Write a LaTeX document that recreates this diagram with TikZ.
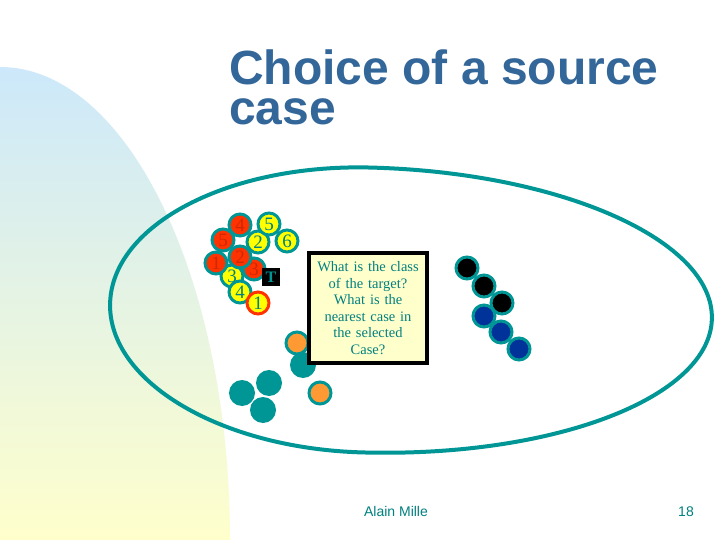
\documentclass[tikz,border=0pt]{standalone}
\usepackage{fontspec}
\setmainfont{Liberation Serif}
\setsansfont{Liberation Sans}
\usetikzlibrary{positioning}
\definecolor{CaseTeal}{RGB}{0,150,150}
\definecolor{TextTeal}{RGB}{0,128,128}
\definecolor{TitleBlue}{RGB}{51,102,153}
\definecolor{CaseRed}{RGB}{255,51,0}
\definecolor{DigitRed}{RGB}{205,40,0}
\definecolor{CaseYellow}{RGB}{255,255,0}
\definecolor{CaseOrange}{RGB}{255,153,51}
\definecolor{CaseBlue}{RGB}{0,51,153}
\definecolor{NoteYellow}{RGB}{255,255,204}
\definecolor{SkyBlue}{RGB}{204,232,250}
\definecolor{PaleYellow}{RGB}{255,255,204}
\tikzset{
  case/.style={circle,draw=CaseTeal,line width=3pt,minimum size=22pt,
    inner sep=0pt,font=\fontsize{19}{19}\selectfont},
  redcase/.style={case,fill=CaseRed,text=DigitRed},
  yellowcase/.style={case,fill=CaseYellow,text=TextTeal},
  darkcase/.style={case,fill=#1},
  tealcase/.style={circle,fill=CaseTeal,minimum size=26pt,inner sep=0pt},
  tbox/.style={fill=black,text=CaseTeal,minimum size=18pt,inner sep=0pt,
    font=\bfseries\fontsize{16}{16}\selectfont},
  question/.style={draw=black,line width=4pt,fill=NoteYellow,text=TextTeal,
    minimum width=118pt,minimum height=110pt,text width=112pt,align=center,
    inner sep=0pt,font=\fontsize{14.5}{16.6}\selectfont},
  titletext/.style={inner sep=0pt,text=TitleBlue,align=left,
    font=\sffamily\bfseries\fontsize{48}{40}\selectfont},
  footer/.style={inner sep=0pt,text=TextTeal,font=\sffamily\fontsize{14}{14}\selectfont}
}

\begin{document}
\begin{tikzpicture}[x=1pt,y=-1pt]
  \useasboundingbox (0,0) rectangle (720,540);
  \fill[white] (0,0) rectangle (720,540);
  % background band
  \shade[top color=SkyBlue,bottom color=PaleYellow]
    (0,540) -- (0,67) .. controls (127,67) and (230,279) .. (230,540) -- cycle;
  % case base
  \draw[CaseTeal,line width=4pt,rotate around={-1.5:(367,310)}]
    (367,167.5) arc[start angle=270,end angle=90,x radius=257,y radius=142.5]
    arc[start angle=90,end angle=-90,x radius=345,y radius=142.5] -- cycle;
  % two classes near the target
  \node[yellowcase] (y3) at (232,276) {3};
  \node[redcase] (r5) at (223,240) {5};
  \node[redcase] (r4) at (240,225) {4};
  \node[redcase] (r1) at (216,263) {1};
  \node[redcase] (r3) at (254,269) {3};
  \node[redcase] (r2) at (240,257) {2};
  \node[yellowcase] (y4) at (240,292) {4};
  \node[yellowcase] (y2) at (258,242) {2};
  \node[yellowcase] (y5) at (269,224) {5};
  \node[yellowcase] (y6) at (287,241) {6};
  \node[yellowcase,draw=CaseRed] (y1) at (258,303) {1};
  \node[tbox] (target) at (271,277) {T};
  % other cases
  \node[tealcase] (t1) at (242,393) {};
  \node[tealcase] (t2) at (269,383) {};
  \node[tealcase] (t3) at (263,410) {};
  \node[darkcase=CaseOrange] (o1) at (297,343) {};
  \node[tealcase] (t4) at (303,365) {};
  \node[darkcase=CaseOrange] (o2) at (320,393) {};
  \foreach \name/\px/\py/\col in {k1/467/268/black,k2/484/286/black,k3/502/303/black,
      b1/484/316/CaseBlue,b2/501/332/CaseBlue,b3/519/349/CaseBlue}
    \node[darkcase=\col] (\name) at (\px,\py) {};
  % question box
  \node[question] (note) at (368,308)
    {What is the class\\of the target?\\What is the\\nearest case in\\the selected\\Case?};
  % title and footer
  \node[titletext,anchor=north west] (title) at (229,50) {Choice of a source\\case};
  \node[footer,anchor=base] (author) at (396,516) {Alain Mille};
  \node[footer,anchor=base east] (page) at (694,516) {18};
\end{tikzpicture}
\end{document}
